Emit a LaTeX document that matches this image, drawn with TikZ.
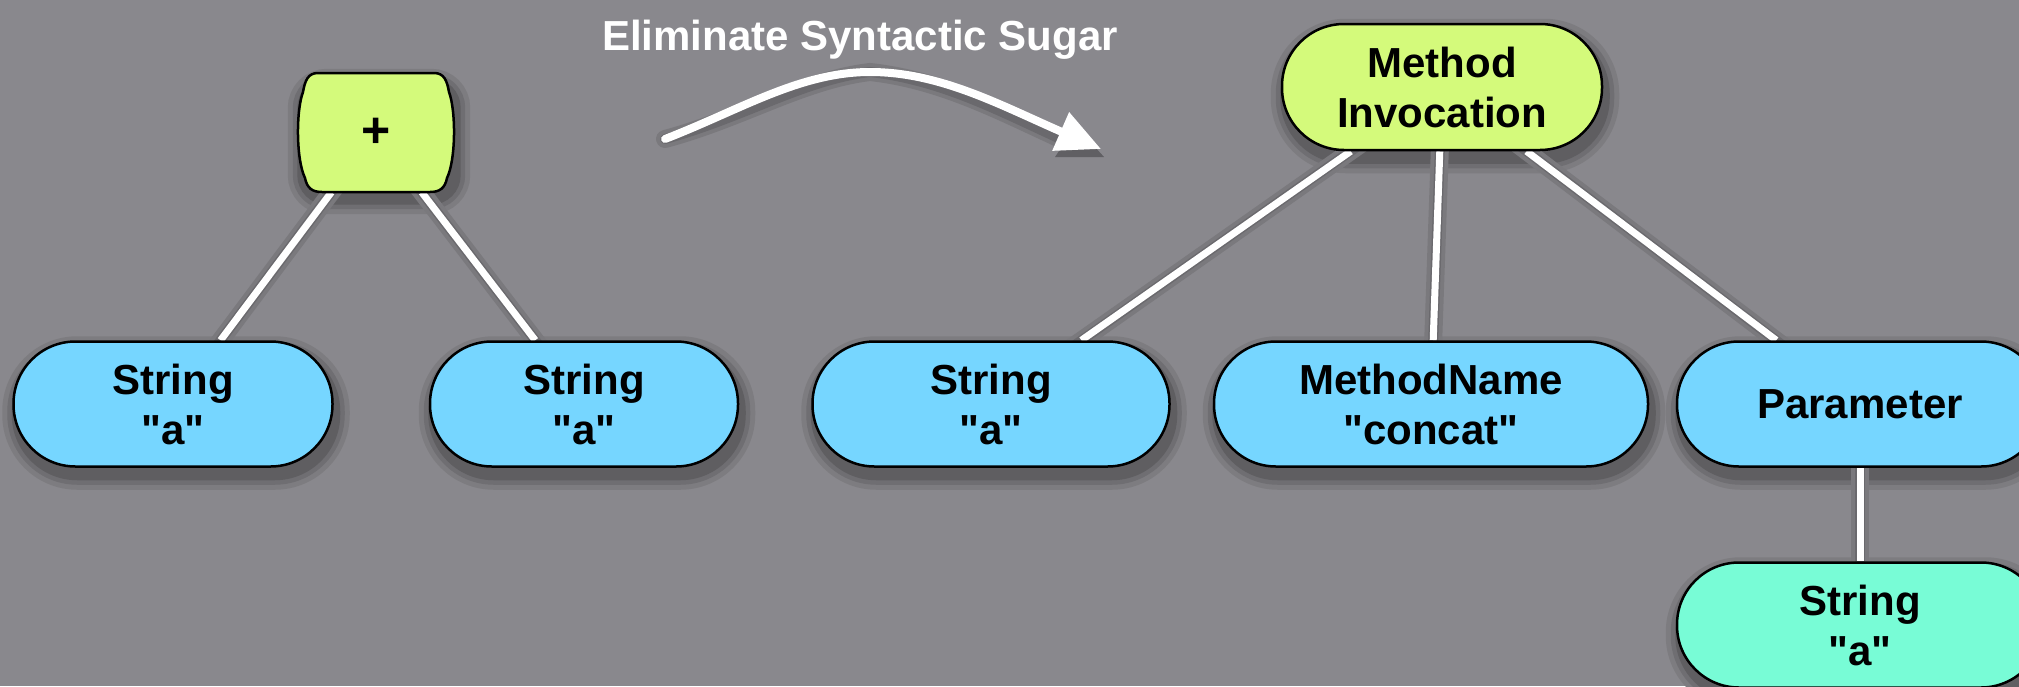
\documentclass[tikz,border=0pt]{standalone}
\usepackage{fontspec}
\setmainfont{Liberation Sans}[Ligatures=TeXOff]
\usetikzlibrary{arrows.meta}
\pgfdeclarelayer{backdrop}
\pgfdeclarelayer{shades}
\pgfdeclarelayer{links}
\pgfsetlayers{backdrop,shades,links,main}
\definecolor{slate}{HTML}{89888D}
\definecolor{limefill}{HTML}{D4FA7B}
\definecolor{skyfill}{HTML}{76D6FF}
\definecolor{mintfill}{HTML}{78FCD6}
% soft drop shadow under a node, built from a few darker bands
\newcommand\boxshade[2]{%
  \foreach \w/\c in {26/91,16/81,7/69}{%
    \draw[line width=\w pt, draw=slate!\c!black, fill=slate!\c!black,
          rounded corners=#2]
      ([shift={(3,9)}]#1.south west) rectangle ([shift={(3,9)}]#1.north east);
  }}
\begin{document}
\begin{tikzpicture}[x=1pt,y=-1pt,
  treenode/.style={draw=black, line width=2.5pt, rounded corners=62pt,
    minimum height=125pt, inner sep=0pt, align=center,
    font=\fontsize{42}{50}\selectfont\bfseries},
  leaf/.style={treenode, fill=skyfill},
  link/.style={white, line width=7pt},
  caption/.style={text=white, font=\fontsize{42}{50}\selectfont\bfseries}]

\useasboundingbox (0,0) rectangle (2019,686);
\begin{pgfonlayer}{backdrop}
  \fill[slate] (0,0) rectangle (2019,686);
\end{pgfonlayer}

% left tree: a + expression
\node[minimum width=156pt, minimum height=119pt, inner sep=0pt,
      font=\fontsize{50}{50}\selectfont\bfseries] (plus) at (376,132.5) {+};
\node[leaf, minimum width=319pt] (sa) at (173,404) {String\\"a"};
\node[leaf, minimum width=308pt] (sb) at (584,404) {String\\"a"};

% title and transformation arrow
\node[caption, anchor=base] (title) at (860,50) {Eliminate Syntactic Sugar};
\coordinate (arrStart) at (665,139);
\coordinate (arrPeak) at (870,72);
\coordinate (arrTip) at (1101,149);

% right tree: the desugared method call
\node[treenode, fill=limefill, minimum width=320pt, minimum height=126pt] (mi) at (1442,87) {Method\\Invocation};
\node[leaf, minimum width=357pt] (sc) at (991,404) {String\\"a"};
\node[leaf, minimum width=434pt] (mname) at (1431,404) {MethodName\\"concat"};
\node[leaf, minimum width=366pt] (param) at (1860,404) {Parameter};
\node[treenode, fill=mintfill, minimum width=366pt] (sd) at (1860,625) {String\\"a"};

\begin{pgfonlayer}{shades}
  \foreach \n in {sa,sb,sc,mname,param,sd,mi}{\boxshade{\n}{62pt}}
  \boxshade{plus}{26pt}
  % shadows of the links and of the arrow
  \begin{scope}[shift={(3,8)}]
    \foreach \w/\c in {18/89,10/77}{%
      \draw[line width=\w pt, slate!\c!black] (plus.center) -- (sa.center);
      \draw[line width=\w pt, slate!\c!black] (plus.center) -- (sb.center);
      \draw[line width=\w pt, slate!\c!black] (mi.center) -- (sc.center);
      \draw[line width=\w pt, slate!\c!black] (mi.center) -- (mname.center);
      \draw[line width=\w pt, slate!\c!black] (mi.center) -- (param.center);
      \draw[line width=\w pt, slate!\c!black] (param.center) -- (sd.center);
      \draw[line width=\w pt, slate!\c!black, line cap=round]
        (arrStart) .. controls (740,110) and (800,72) .. (arrPeak)
        .. controls (940,72) and (1000,105) .. (1062,133);
    }
    \fill[slate!70!black] (1052,149) -- (1073,118) -- (1101,149) -- cycle;
  \end{scope}
\end{pgfonlayer}

\begin{pgfonlayer}{links}
  \draw[link] (plus) -- (sa);
  \draw[link] (plus) -- (sb);
  \draw[link] (mi) -- (sc);
  \draw[link] (mi) -- (mname);
  \draw[link] (mi) -- (param);
  \draw[link] (param) -- (sd);
  % frame of the + node: flat top and bottom, rounded corners, slightly convex sides
  \begin{scope}[shift={(plus.center)}]
    \draw[draw=black, line width=2.5pt, fill=limefill]
      (-58,-59.5) -- (58,-59.5)
      .. controls (68,-59.5) and (71,-52) .. (73,-40.5)
      .. controls (80,-22) and (80,27) .. (71,45.5)
      .. controls (69,55.5) and (64,59.5) .. (54,59.5)
      -- (-54,59.5)
      .. controls (-64,59.5) and (-69,55.5) .. (-71,45.5)
      .. controls (-80,27) and (-80,-22) .. (-73,-40.5)
      .. controls (-71,-52) and (-68,-59.5) .. cycle;
  \end{scope}
\end{pgfonlayer}

% transformation arrow
\draw[white, line width=8pt, line cap=round, -{Triangle[length=44pt, width=40pt]}]
  (arrStart) .. controls (740,110) and (800,72) .. (arrPeak)
  .. controls (940,72) and (1000,105) .. (arrTip);
\end{tikzpicture}
\end{document}
